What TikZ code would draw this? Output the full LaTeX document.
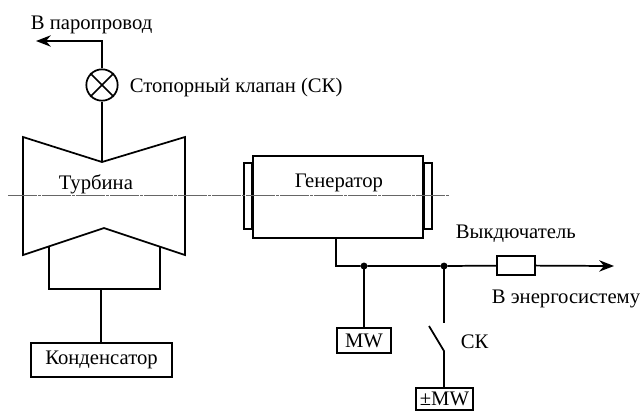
\documentclass[tikz,border=0pt]{standalone}
\usepackage{fontspec}
\setmainfont{Liberation Serif}
\usetikzlibrary{positioning,arrows.meta}

\begin{document}
\begin{tikzpicture}[
  x=0.75pt, y=-0.75pt,
  font=\fontsize{15.5pt}{18pt}\selectfont, >={Stealth[length=3.9mm,width=3mm]},
  line width=1.3pt,
  box/.style={draw,inner sep=0pt,align=center},
  valve/.style={draw,circle,minimum size=23.5pt,inner sep=0pt},
  junction/.style={draw,fill=black,circle,minimum size=3.8pt,inner sep=0pt},
  lbl/.style={inner sep=0pt,anchor=base west},
  axisline/.style={draw=black!60,line width=0.9pt,dash pattern=on 21.5pt off 1pt on 2pt off 1pt}]
  \useasboundingbox (0,0) rectangle (641,412);
  % --- turbine body, steam line and valve ---
  \coordinate (tl) at (23,137);
  \coordinate (tm) at (102,162);
  \coordinate (tr) at (185,137);
  \coordinate (br) at (185,255);
  \coordinate (bm) at (104,228);
  \coordinate (bl) at (23,255);
  \draw (tl) -- (tm) -- (tr) -- (br) -- (bm) -- (bl) -- cycle;
  \node[valve] (ck) at (102,85) {};
  \draw (ck.north west) -- (ck.south east);
  \draw (ck.north east) -- (ck.south west);
  \coordinate (elbow) at (102,41);
  \coordinate (steam) at (36,41);
  \draw (tm) -- (ck);
  \draw[->] (ck) -- (elbow) -- (steam);
  \node[lbl] (steamlbl) at (30,29) {В паропровод};
  \node[lbl] (cklbl) at (129,92) {Стопорный клапан (СК)};
  \node[lbl] (turb) at (58,189) {Турбина};
  % --- exhaust and condenser ---
  \coordinate (ex1) at (49,246);
  \coordinate (ex2) at (49,289);
  \coordinate (ex3) at (160,289);
  \coordinate (ex4) at (160,247);
  \draw (ex1) -- (ex2) -- (ex3) -- (ex4);
  \coordinate (exm) at (101,289);
  \node[box,minimum width=105.5pt,minimum height=25.5pt] (cond) at (101.5,360) {Конденсатор};
  \draw (exm) -- (exm |- cond.north);
  % --- generator with its end pieces ---
  \node[box,minimum width=6pt,minimum height=49.5pt,anchor=east] (endl) at (253,196) {};
  \node[box,minimum width=6pt,minimum height=49.5pt,anchor=west] (endr) at (423,196) {};
  \node[box,fill=white,minimum width=127.5pt,minimum height=61.5pt] (gen) at (338,197) {};
  \node[lbl] (genlbl) at (294,187) {Генератор};
  % --- shaft axis ---
  \coordinate (axl) at (8,195.5);
  \coordinate (axr) at (450,195.5);
  \draw[axisline] (axl) -- (axr);
  % --- output bus ---
  \coordinate (tap) at (336,238);
  \coordinate (bus) at (336,266);
  \coordinate (grid) at (614,266);
  \node[junction] (j1) at (364,266) {};
  \node[junction] (j2) at (444,266) {};
  \node[box,minimum width=28.5pt,minimum height=14pt] (cb) at (516,265.5) {};
  \draw (tap) -- (bus) -- (j1) -- (j2) -- (cb);
  \draw[->] (cb) -- (grid);
  \node[lbl] (cblbl) at (455,238) {Выкдючатель};
  \node[lbl] (gridlbl) at (491,303) {В энергосистему};
  % --- measuring boxes and the contact ---
  \node[box,minimum width=40pt,minimum height=19pt] (mw) at (364,340.5) {MW};
  \draw (j1) -- (mw);
  \node[box,minimum width=42.5pt,minimum height=17pt] (pmw) at (444.5,399) {±MW};
  \coordinate (sw1) at (444,323);
  \coordinate (sw2) at (429,326);
  \coordinate (sw3) at (444,351);
  \draw (j2) -- (sw1);
  \draw (sw2) -- (sw3) -- (sw3 |- pmw.north);
  \node[lbl] (swlbl) at (460,348) {СК};
\end{tikzpicture}
\end{document}
